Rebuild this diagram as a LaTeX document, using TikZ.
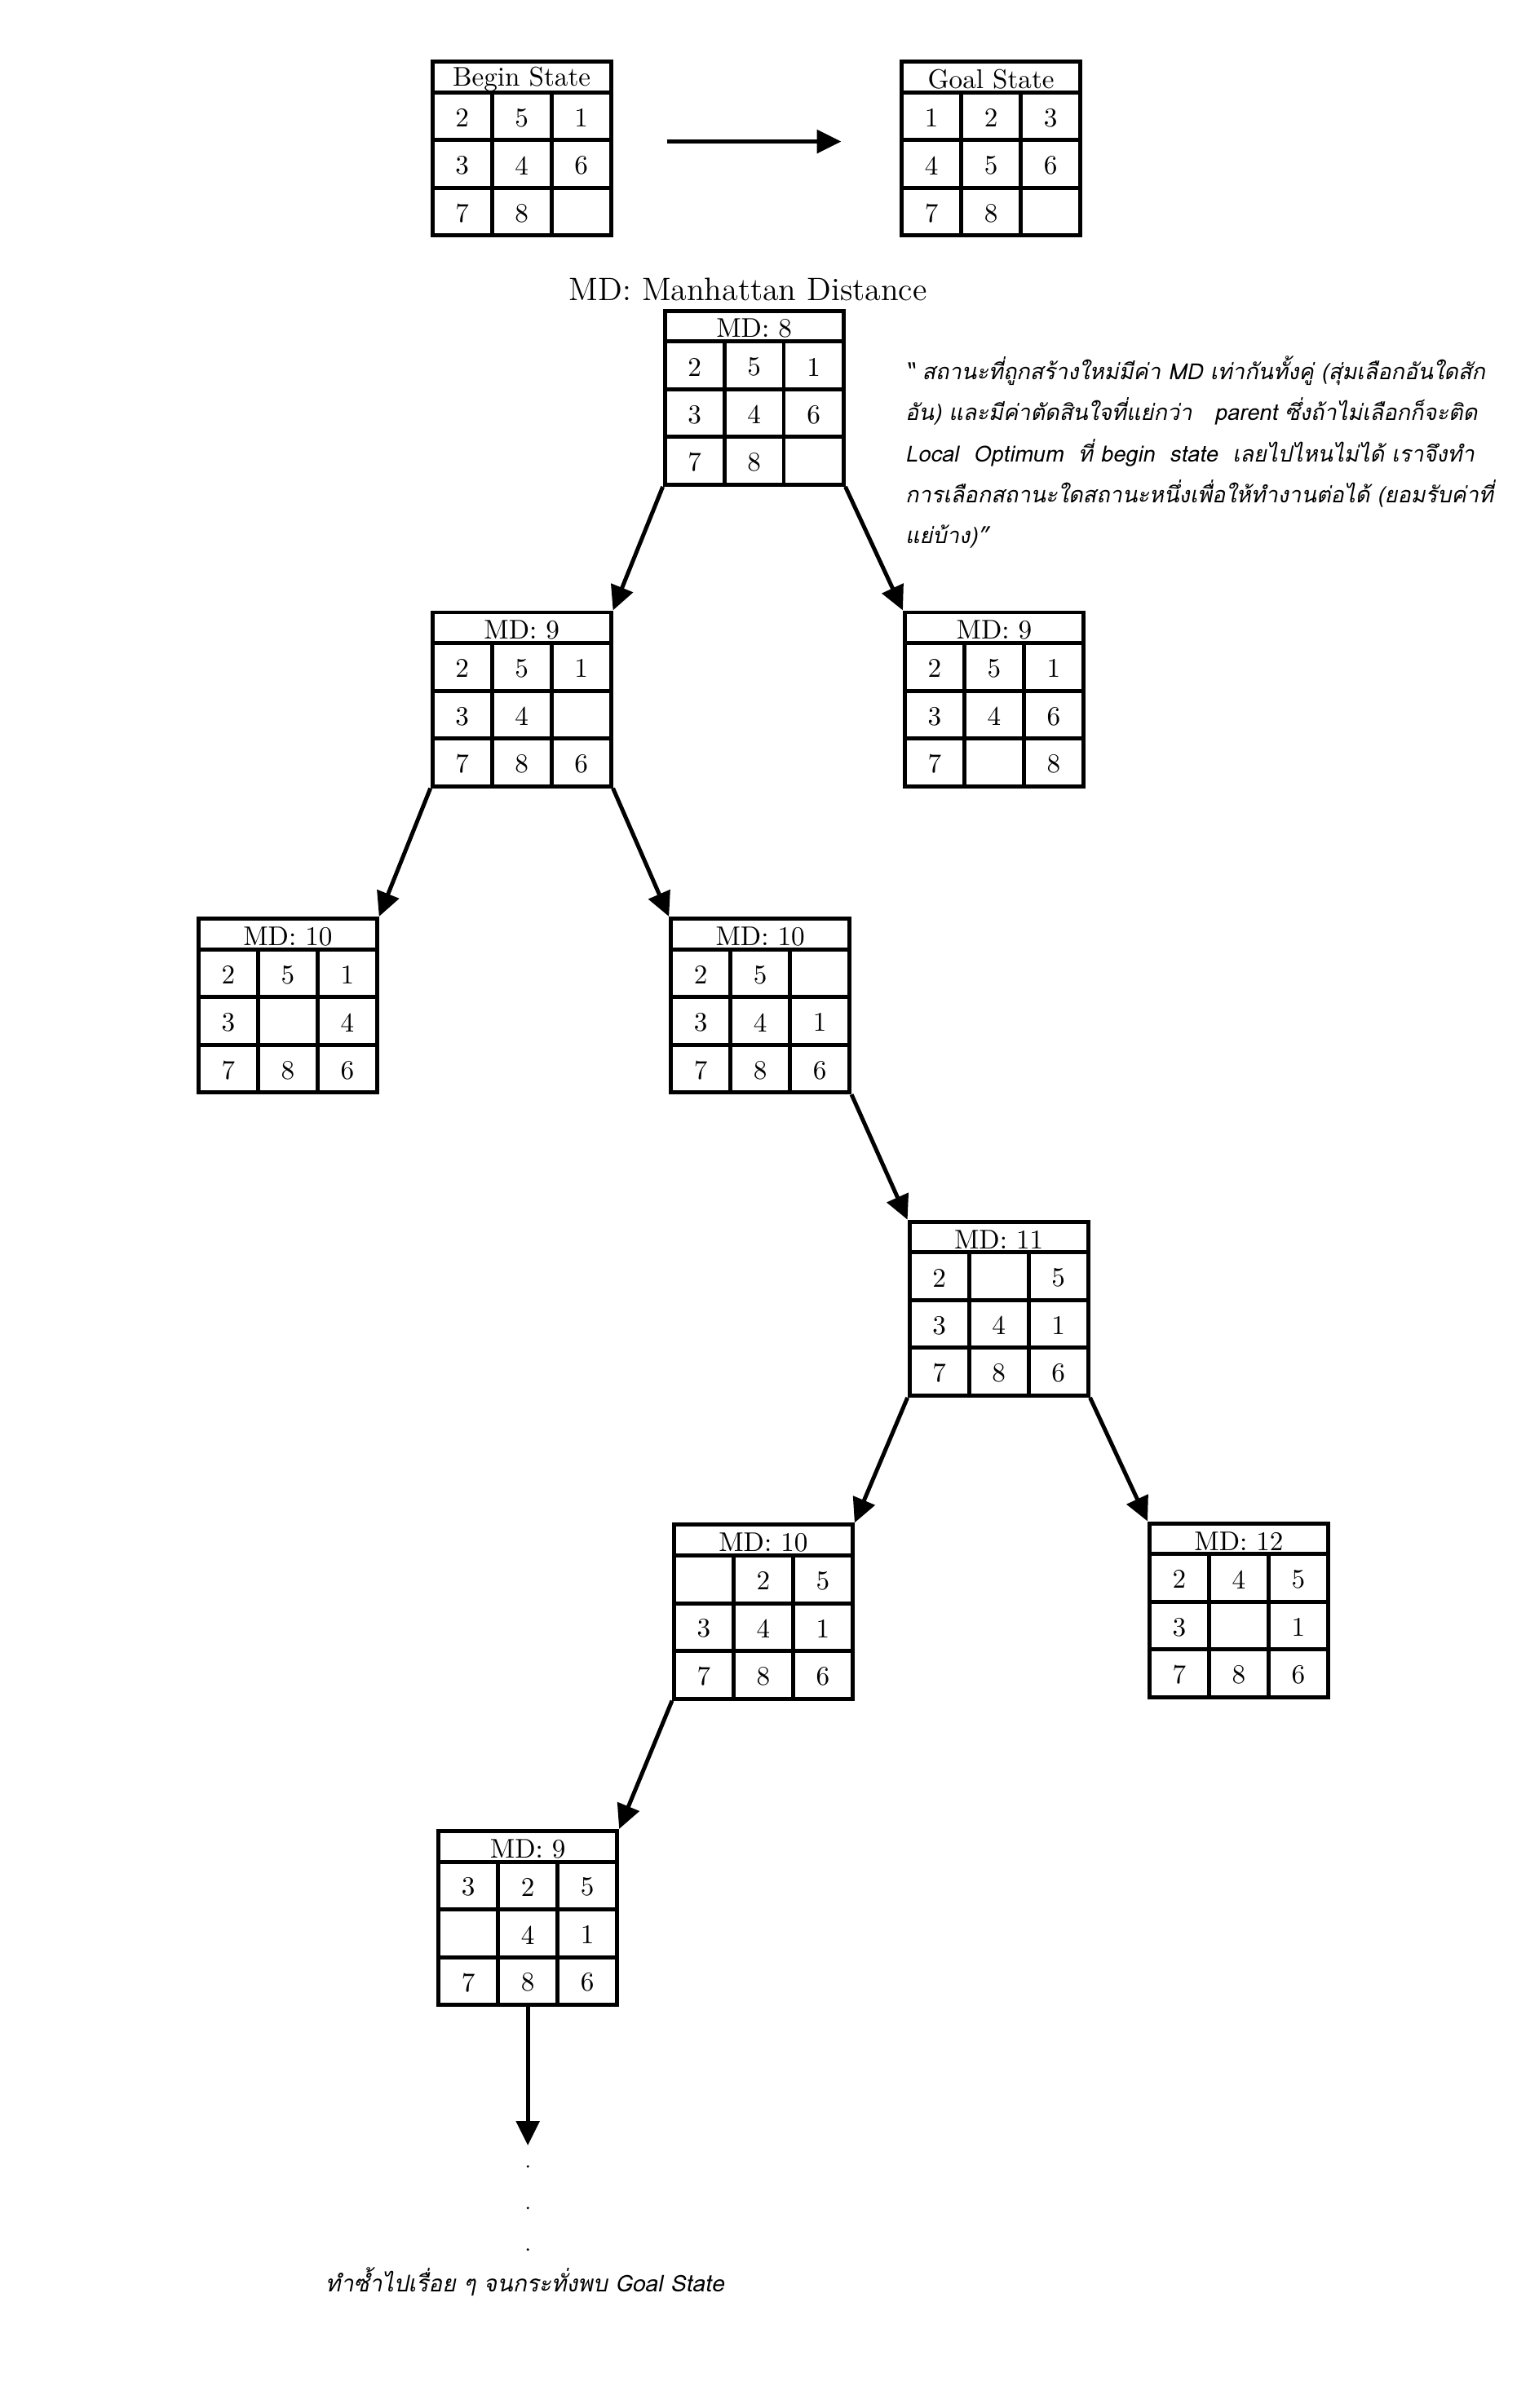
\documentclass[tikz,border=0pt]{standalone}
\usepackage{fontspec}
\newfontfamily\thaifont[Script=Thai,AutoFakeSlant=0.2]{Loma}
\usetikzlibrary{arrows.meta}

\tikzset{
    boardframe/.style={draw, line width=1.5pt, minimum width=23.2mm, minimum height=22.6mm, inner sep=0pt},
    boardline/.style={line width=1.5pt},
    celltext/.style={font=\normalsize, inner sep=0pt},
    headtext/.style={font=\normalsize, inner sep=0pt},
    edge/.style={line width=1.5pt, -{Triangle[length=9pt,width=8.5pt]}},
    thainote/.style={font=\thaifont\itshape\fontsize{8.2}{15.2}\selectfont},
    thaiend/.style={font=\thaifont\itshape\fontsize{8.5}{12}\selectfont},
}

% 3x3 board: name, top-left corner, header, cells
\newcommand{\board}[4]{%
    \begin{scope}[shift={#2}]
        \node[boardframe] (#1) at (58,56.5) {};
        \draw[boardline] (0,20) -- (116,20) (0,51) -- (116,51) (0,82) -- (116,82);
        \draw[boardline] (38.7,20) -- (38.7,113) (77.3,20) -- (77.3,113);
        \node[headtext] at (58,11.5) {#3};
        \foreach \c [count=\i from 0] in {#4}
            \node[celltext] at ({19.3+38.7*mod(\i,3)},{36.5+31*int(\i/3)}) {\c};
    \end{scope}
}

\begin{document}
\begin{tikzpicture}[x=0.2mm, y=-0.2mm]
    \useasboundingbox (0,0) rectangle (1000,1565);

    \board{begin}{(281,40)}{Begin State}{2,5,1,3,4,6,7,8,{}}
    \board{goal}{(586,40)}{Goal State}{1,2,3,4,5,6,7,8,{}}
    \draw[edge] ([xshift=7mm,yshift=0.9mm]begin.east) -- ([xshift=-7.6mm,yshift=0.9mm]goal.west);

    \node[font=\large] (mdlabel) at (486,188) {MD: Manhattan Distance};

    \board{md8}{(432,202)}{MD: 8}{2,5,1,3,4,6,7,8,{}}

    \node[thainote, anchor=north west, align=left, inner sep=0pt] (note) at (588,231)
        {“ สถานะที่ถูกสร้างใหม่มีค่า MD เท่ากันทั้งคู่ (สุ่มเลือกอันใดสัก\\
         อัน) และมีค่าตัดสินใจที่แย่กว่า \ \ parent ซึ่งถ้าไม่เลือกก็จะติด\\
         Local \ Optimum \ ที่ begin \ state \ เลยไปไหนไม่ได้ เราจึงทำ\\
         การเลือกสถานะใดสถานะหนึ่งเพื่อให้ทำงานต่อได้ (ยอมรับค่าที่\\
         แย่บ้าง)”};

    \board{md9a}{(281,398)}{MD: 9}{2,5,1,3,4,{},7,8,6}
    \board{md9b}{(588,398)}{MD: 9}{2,5,1,3,4,6,7,{},8}

    \board{md10a}{(129,597)}{MD: 10}{2,5,1,3,{},4,7,8,6}
    \board{md10b}{(436,597)}{MD: 10}{2,5,{},3,4,1,7,8,6}

    \board{md11}{(591,794)}{MD: 11}{2,{},5,3,4,1,7,8,6}

    \board{md10c}{(438,991)}{MD: 10}{{},2,5,3,4,1,7,8,6}
    \board{md12}{(747,990)}{MD: 12}{2,4,5,3,{},1,7,8,6}

    \board{md9c}{(285,1190)}{MD: 9}{3,2,5,{},4,1,7,8,6}

    \draw[edge] (md8.south west) -- (md9a.north east);
    \draw[edge] (md8.south east) -- (md9b.north west);
    \draw[edge] (md9a.south west) -- (md10a.north east);
    \draw[edge] (md9a.south east) -- (md10b.north west);
    \draw[edge] (md10b.south east) -- (md11.north west);
    \draw[edge] (md11.south west) -- (md10c.north east);
    \draw[edge] (md11.south east) -- (md12.north west);
    \draw[edge] (md10c.south west) -- (md9c.north east);

    \coordinate (more) at ([yshift=-18mm]md9c.south);
    \draw[edge] (md9c.south) -- (more);

    \fill (343,1408) circle (0.5pt);
    \fill (343,1435) circle (0.5pt);
    \fill (343,1462) circle (0.5pt);

    \node[thaiend] (repeat) at (341,1483) {ทำซ้ำไปเรื่อย ๆ จนกระทั่งพบ Goal State};
\end{tikzpicture}
\end{document}
